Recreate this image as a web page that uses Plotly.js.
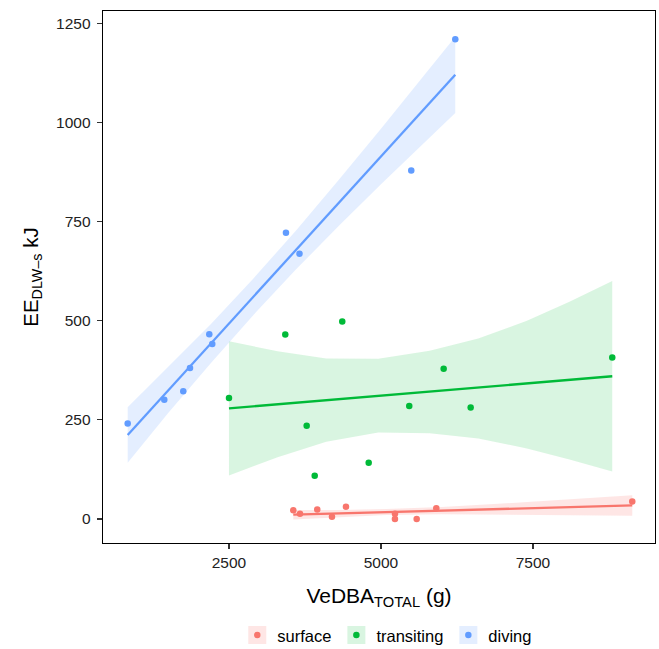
<!DOCTYPE html>
<html>
<head>
<meta charset="utf-8">
<script src="https://cdn.plot.ly/plotly-3.0.1.min.js"></script>
<style>html,body{margin:0;padding:0;background:#fff;}#chart{width:659px;height:649px;}</style>
</head>
<body>
<div id="chart"></div>
<script>
// ---- data ----
const groups = ['surface', 'transiting', 'diving'];
const colors = ['#F8766D', '#00BA38', '#619CFF'];
const bandColors = ['rgba(248,118,109,0.18)', 'rgba(0,186,56,0.15)', 'rgba(97,156,255,0.17)'];

const surfaceX = [3558, 3668, 3952, 4194, 4424, 5230, 5230, 5587, 5910, 9133];
const surfaceY = [22, 13, 24, 6, 31, 13, 0, 0, 27, 44];
const transitingX = [2500, 3426, 4363, 3778, 3910, 4798, 5465, 6031, 6475, 8804];
const transitingY = [305, 465, 498, 235, 109, 142, 285, 379, 281, 407];
const divingX = [834, 1436, 1748, 1859, 2176, 2225, 3437, 3660, 5498, 6222];
const divingY = [241, 301, 322, 381, 466, 441, 722, 669, 879, 1210];

// fitted lines (lm)
const surfaceFitX = [3558, 9133];
const surfaceFitY = [10.8, 34.3];
const transitingFitX = [2500, 8804];
const transitingFitY = [279, 360];
const divingFitX = [834, 6222];
const divingFitY = [212, 1120];

// confidence bands
const surfaceBandX = [3558, 4300, 5089, 6000, 7000, 8000, 9133];
const surfaceBandLo = [-1, 5, 10, 12, 11, 10, 8];
const surfaceBandHi = [23, 23, 25, 30, 39, 49, 60];
const transitingBandX = [2500, 3300, 4100, 4955, 5800, 6600, 7400, 8100, 8804];
const transitingBandLo = [110, 156, 195, 218, 216, 203, 178, 150, 120];
const transitingBandHi = [448, 423, 405, 404, 424, 455, 500, 548, 600];
const divingBandX = [834, 1500, 2200, 2910, 3600, 4300, 5000, 5700, 6222];
const divingBandLo = [142, 267, 393, 516, 629, 738, 844, 947, 1024];
const divingBandHi = [282, 383, 491, 608, 727, 854, 984, 1117, 1216];

const xTicks = [2500, 5000, 7500];
const yTicks = [0, 250, 500, 750, 1000, 1250];

// ---- build traces ----
const pts = [[surfaceX, surfaceY], [transitingX, transitingY], [divingX, divingY]];
const fits = [[surfaceFitX, surfaceFitY], [transitingFitX, transitingFitY], [divingFitX, divingFitY]];
const bands = [[surfaceBandX, surfaceBandLo, surfaceBandHi], [transitingBandX, transitingBandLo, transitingBandHi], [divingBandX, divingBandLo, divingBandHi]];

const traces = [];
bands.forEach((b, i) => {
  const [bx, lo, hi] = b;
  traces.push({
    type: 'scatter', mode: 'lines',
    x: bx.concat(bx.slice().reverse()),
    y: hi.concat(lo.slice().reverse()),
    fill: 'toself', fillcolor: bandColors[i],
    line: {width: 0}, hoverinfo: 'skip', showlegend: false
  });
});
pts.forEach((p, i) => {
  traces.push({
    type: 'scatter', mode: 'markers', x: p[0], y: p[1],
    marker: {color: colors[i], size: 6.5}, showlegend: false, name: groups[i]
  });
});
fits.forEach((f, i) => {
  traces.push({
    type: 'scatter', mode: 'lines', x: f[0], y: f[1],
    line: {color: colors[i], width: 2.3}, showlegend: false, hoverinfo: 'skip'
  });
});
// legend entries
groups.forEach((g, i) => {
  traces.push({
    type: 'scatter', mode: 'markers', x: [null], y: [null],
    fill: 'toself', fillcolor: bandColors[i],
    marker: {color: colors[i], size: 6.5}, line: {width: 0},
    name: g, showlegend: true
  });
});

const fam = '"Liberation Sans", Arial, sans-serif';
const layout = {
  width: 659, height: 649,
  margin: {l: 103, r: 4, t: 11, b: 106},
  paper_bgcolor: '#fff', plot_bgcolor: '#fff',
  font: {family: fam, color: '#000'},
  showlegend: true,
  xaxis: {
    range: [428, 9507], tickvals: xTicks, ticktext: xTicks.map(String),
    showgrid: false, zeroline: false, automargin: false,
    showline: true, mirror: true, linecolor: '#000', linewidth: 1.3,
    ticks: 'outside', ticklen: 5, tickwidth: 1.1, tickcolor: '#333',
    tickfont: {size: 15.5, color: '#222', family: fam},
    title: {text: 'VeDBA<sub>TOTAL</sub> (g)', font: {size: 21, color: '#000', family: fam}, standoff: 18}
  },
  yaxis: {
    range: [-60.5, 1281], tickvals: yTicks, ticktext: yTicks.map(String),
    showgrid: false, zeroline: false, automargin: false,
    showline: true, mirror: true, linecolor: '#000', linewidth: 1.3,
    ticks: 'outside', ticklen: 5, tickwidth: 1.1, tickcolor: '#333',
    ticklabelstandoff: 3,
    tickfont: {size: 15.5, color: '#222', family: fam},
    title: {text: 'EE<sub>DLW–s</sub> kJ', font: {size: 20.5, color: '#000', family: fam}, standoff: 12}
  },
  legend: {
    orientation: 'h', x: 0.515, xanchor: 'center',
    yref: 'container', y: 0.048, yanchor: 'top',
    font: {size: 16.5, color: '#000', family: fam},
    itemwidth: 30, bgcolor: 'rgba(0,0,0,0)'
  }
};

Plotly.newPlot('chart', traces, layout, {displayModeBar: false, staticPlot: true}).then(function (gd) {
  // make legend keys small squares like ggplot keys
  document.querySelectorAll('.legend .legendfill path').forEach(function (p) {
    p.setAttribute('d', 'M11,-9h18v18h-18z');
  });
});
</script>
</body>
</html>
